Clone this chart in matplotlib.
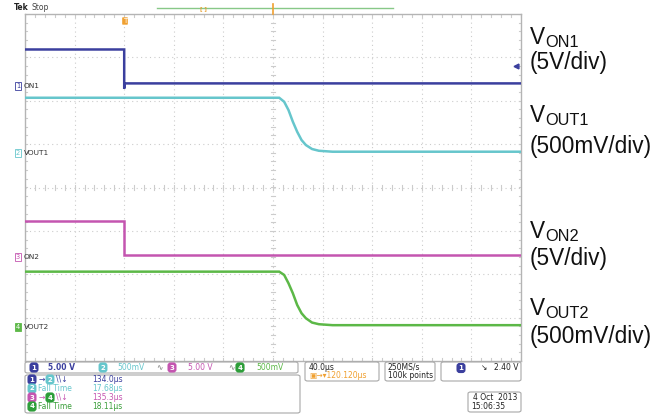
import numpy as np
import matplotlib
matplotlib.use("Agg")
import matplotlib.pyplot as plt
from matplotlib.patches import FancyBboxPatch

plt.rcParams['font.family'] = ['DejaVu Sans']

W, H = 668, 418

# --- scope settings ---
time_per_div = 40.0          # us/div
trigger_t = 80.0             # us from left edge (delay 120.120us to centre)
ch_scale = [5.0, 0.5, 5.0, 0.5]        # V/div
ch_pos = [2.33, 0.795, -1.60, -3.214]  # ground marker position, div
ch_names = ["ON1", "VOUT1", "ON2", "VOUT2"]
ch_colors = ["#3b3f9e", "#66c6cc", "#c455b0", "#5cb847"]

# --- traces (time us, volts) ---
on1_t = [0, 80.0, 80.0, 80.4, 400]
on1_v = [4.26, 4.26, -0.25, 0.35, 0.35]

fall_t = [0, 205.0, 209.0, 212.5, 216.0, 219.5, 223.0, 226.5, 231.5, 237.0, 248.0, 400]
vout1_v = [0.637, 0.637, 0.591, 0.495, 0.361, 0.245, 0.150, 0.092, 0.046, 0.026, 0.015, 0.015]
vout2_v = [0.637, 0.637, 0.599, 0.503, 0.388, 0.253, 0.158, 0.100, 0.050, 0.031, 0.020, 0.020]

on2_t = [0, 80.0, 80.0, 400]
on2_v = [4.15, 4.15, 0.23, 0.23]

trig_level = 2.40  # V on ch1

meas_labels = ["134.0\u00b5s", "17.68\u00b5s", "135.3\u00b5s", "18.11\u00b5s"]


def fx(x):
    return x / W


def fy(y):
    return 1 - y / H


fig = plt.figure(figsize=(W / 100, H / 100), dpi=100)
fig.patch.set_facecolor("white")

left, right, top, bottom = 25, 521, 14, 361
ax = fig.add_axes([fx(left), fy(bottom), (right - left) / W, (bottom - top) / H])
ax.set_xlim(0, 10 * time_per_div)
ax.set_ylim(-4, 4)
ax.set_xticks([])
ax.set_yticks([])
for s in ax.spines.values():
    s.set_color("#b4b4b4")
    s.set_linewidth(1.0)

grid_c = "#cccccc"
for i in range(1, 10):
    ax.axvline(i * time_per_div, color=grid_c, lw=0.8, ls=(0, (1, 3)), zorder=1)
for j in range(-3, 4):
    ax.axhline(j, color=grid_c, lw=0.8, ls=(0, (1, 3)), zorder=1)

# minor ticks on centre lines and edges
minor_x = np.arange(0, 10 * time_per_div + 1, time_per_div / 5)
minor_y = np.arange(-4, 4.01, 0.2)
tk = 0.06
for x in minor_x:
    for yc in (0, 4, -4):
        ax.plot([x, x], [yc - tk, yc + tk], color=grid_c, lw=0.8, zorder=1)
for y in minor_y:
    for xc in (200, 0, 400):
        ax.plot([xc - 1.6, xc + 1.6], [y, y], color=grid_c, lw=0.8, zorder=1)

# traces
traces = [(on1_t, on1_v), (fall_t, vout1_v), (on2_t, on2_v), (fall_t, vout2_v)]
for k, (t, v) in enumerate(traces):
    yd = ch_pos[k] + np.array(v) / ch_scale[k]
    ax.plot(t, yd, color=ch_colors[k], lw=1.8, zorder=3, solid_joinstyle="miter")

# trigger level marker on the right edge
ax.plot([396], [ch_pos[0] + trig_level / ch_scale[0]], marker="<", ms=3.5,
        color=ch_colors[0], clip_on=False, zorder=4)

# channel ground markers on the left
for k in range(4):
    yp = fy(187.5 - ch_pos[k] * 43.4)
    filled = k == 3
    fig.text(fx(18), yp, str(k + 1), fontsize=4.8, ha="center", va="center",
             color="white" if filled else ch_colors[k],
             bbox=dict(boxstyle="square,pad=0.15", fc=ch_colors[k] if filled else "white",
                       ec=ch_colors[k], lw=0.6))
    fig.text(fx(24), yp, ch_names[k], fontsize=5.3, ha="left", va="center",
             color="#333333")

# top status line
fig.text(fx(14), fy(8), "Tek", fontsize=5.5, fontweight="bold", color="#222222", va="center")
fig.text(fx(31), fy(8), "Stop", fontsize=5.5, color="#444444", va="center")
fig.add_artist(plt.Line2D([fx(157), fx(393)], [fy(8), fy(8)], color="#88c888", lw=1.0))
fig.text(fx(203), fy(8.5), "[ ]", fontsize=4, color="#e8a030", ha="center", va="center",
         fontweight="bold")
fig.text(fx(125), fy(21), "T", fontsize=5, color="white", ha="center", va="center",
         bbox=dict(boxstyle="round,pad=0.1", fc="#f0a030", ec="none"))
fig.add_artist(plt.Line2D([fx(273), fx(273)], [fy(4), fy(14)], color="#f0a030", lw=1.2))


def box(x0, y0, x1, y1):
    p = FancyBboxPatch((fx(x0), fy(y1)), fx(x1 - x0), (y1 - y0) / H,
                       boxstyle="round,pad=0,rounding_size=0.004",
                       transform=fig.transFigure, fc="white", ec="#a8a8a8", lw=0.8)
    fig.add_artist(p)


def badge(x, y, n, c):
    fig.text(fx(x), fy(y), str(n), fontsize=5, color="white", ha="center", va="center",
             fontweight="bold",
             bbox=dict(boxstyle="round,pad=0.3,rounding_size=0.45", fc=c, ec="none"))


small = 5.5
# channel settings row
box(25, 362, 298, 373)
badge(34, 367.5, 1, ch_colors[0])
fig.text(fx(48), fy(367.5), "5.00 V", fontsize=small, color=ch_colors[0], va="center", fontweight="bold")
badge(103, 367.5, 2, ch_colors[1])
fig.text(fx(117), fy(367.5), "500mV", fontsize=small, color=ch_colors[1], va="center")
fig.text(fx(156), fy(367.5), "\u223f", fontsize=small, color="#777777", va="center")
badge(172, 367.5, 3, ch_colors[2])
fig.text(fx(188), fy(367.5), "5.00 V", fontsize=small, color=ch_colors[2], va="center")
fig.text(fx(228), fy(367.5), "\u223f", fontsize=small, color="#777777", va="center")
badge(240, 367.5, 4, "#2e9e3a")
fig.text(fx(256), fy(367.5), "500mV", fontsize=small, color=ch_colors[3], va="center")

# measurement box
box(25, 375, 300, 413)
rows = [379.5, 388.5, 397.5, 406.5]
rc = [ch_colors[0], ch_colors[1], ch_colors[2], "#3a9e3a"]
badge(32, rows[0], 1, ch_colors[0])
fig.text(fx(39), fy(rows[0]), "\u2192", fontsize=small, color=ch_colors[0], va="center")
badge(50, rows[0], 2, ch_colors[1])
fig.text(fx(56), fy(rows[0]), "\\\\\u2193", fontsize=small, color=ch_colors[0], va="center")
badge(32, rows[1], 2, ch_colors[1])
fig.text(fx(38), fy(rows[1]), "Fall Time", fontsize=small, color=ch_colors[1], va="center")
badge(32, rows[2], 3, ch_colors[2])
fig.text(fx(39), fy(rows[2]), "\u2192", fontsize=small, color=ch_colors[2], va="center")
badge(50, rows[2], 4, "#2e9e3a")
fig.text(fx(56), fy(rows[2]), "\\\\\u2193", fontsize=small, color=ch_colors[2], va="center")
badge(32, rows[3], 4, "#2e9e3a")
fig.text(fx(38), fy(rows[3]), "Fall Time", fontsize=small, color="#3a9e3a", va="center")
for r, c, m in zip(rows, rc, meas_labels):
    fig.text(fx(92), fy(r), m, fontsize=small, color=c, va="center")

# timebase box
box(305, 362, 379, 381)
fig.text(fx(309), fy(367), "40.0\u00b5s", fontsize=small, color="#222222", va="center")
fig.text(fx(309), fy(376), "\u25a3\u2192\u25be120.120\u00b5s", fontsize=small,
         color="#f0a030", va="center")
box(385, 362, 435, 381)
fig.text(fx(388), fy(367), "250MS/s", fontsize=small, color="#222222", va="center")
fig.text(fx(388), fy(376), "100k points", fontsize=small, color="#222222", va="center")
box(441, 362, 521, 381)
badge(461, 368, 1, ch_colors[0])
fig.text(fx(481), fy(368), "\u2198", fontsize=small, color="#222222", va="center")
fig.text(fx(519), fy(368), "2.40 V", fontsize=small, color="#222222", va="center", ha="right")
box(468, 392, 521, 412)
fig.text(fx(517), fy(397.5), "4 Oct  2013", fontsize=small, color="#222222", va="center", ha="right")
fig.text(fx(471), fy(406.5), "15:06:35", fontsize=small, color="#222222", va="center")

# right-side annotations: V with subscript, then scale
big, sub = 16.3, 11.8
sig_labels = [("ON1", 44, "(5V/div)", 63), ("OUT1", 122, "(500mV/div)", 146),
              ("ON2", 238, "(5V/div)", 258), ("OUT2", 315, "(500mV/div)", 337)]
for s, yb, scale, ys in sig_labels:
    fig.text(fx(530), fy(yb), "V", fontsize=big, family="Liberation Sans",
             va="baseline", ha="left", color="#111111")
    fig.text(fx(545), fy(yb + 3), s, fontsize=sub, family="Liberation Sans",
             va="baseline", ha="left", color="#111111")
    fig.text(fx(530), fy(ys), scale, fontsize=big, family="Liberation Sans",
             va="center", ha="left", color="#111111")

fig.savefig("out.png", dpi=100, facecolor="white")
